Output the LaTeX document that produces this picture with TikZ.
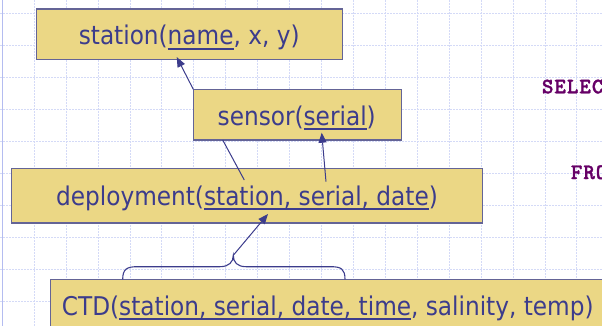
\documentclass[tikz,border=0pt]{standalone}
\usepackage{fontspec}
\newfontfamily\boxfont{DejaVu Sans Condensed}
\newfontfamily\codefont{lmmonolt10-bold.otf}[FakeBold=1.6,LetterSpace=4.3]
\usetikzlibrary{arrows.meta}

\definecolor{boxfill}{RGB}{235,215,133}
\definecolor{boxedge}{RGB}{100,100,150}
\definecolor{ink}{RGB}{60,60,140}
\definecolor{gridblue}{RGB}{212,218,247}
\definecolor{marginblue}{RGB}{180,188,240}
\definecolor{sqlpurple}{RGB}{102,0,102}

% key attributes: a rule set just under the baseline
\newsavebox\keybox
\newcommand\keyattr[1]{\sbox\keybox{#1}\rlap{\rule[-5pt]{\wd\keybox}{1.8pt}}\usebox\keybox}

\begin{document}
\begin{tikzpicture}[x=1pt,y=-1pt,
  relbox/.style={draw=boxedge, line width=1.2pt, fill=boxfill, inner sep=0pt, outer sep=0pt},
  reltext/.style={text=ink, font=\boxfont\fontsize{25.8}{30}\selectfont, inner sep=0pt, anchor=base},
  link/.style={draw=ink, line width=1pt},
  fk/.style={link, -{Triangle[length=10pt,width=8pt]}},
  gridline/.style={draw=gridblue, line width=1pt, dash pattern=on 2pt off 1pt},
  sql/.style={text=sqlpurple, font=\codefont\fontsize{22}{26}\selectfont, inner sep=0pt, anchor=base west}]

\useasboundingbox (0,0) rectangle (602,326);
\clip (0,0) rectangle (602,326);

% background grid
\foreach \i in {0,...,17} \draw[gridline] ({34.3+31.92*\i},0) -- ++(0,326);
\foreach \j in {0,...,9} \draw[gridline] (0,{13.3+31.98*\j}) -- ++(602,0);
\draw[marginblue, line width=1.2pt] (2.2,0) -- (2.2,326);

% SQL fragments on the right
\node[sql] (select) at (541.7,93.3) {SELECT};
\node[sql] (from) at (570.7,179) {FROM};

% relations
\node[relbox, minimum width=306, minimum height=50.3] (station) at (189.7,34.15) {};
\node[relbox, minimum width=208.4, minimum height=50.7] (sensor) at (297.5,114.65) {};
\node[relbox, minimum width=470.6, minimum height=54.7] (deployment) at (247,195.65) {};
\node[relbox, minimum width=580, minimum height=80] (ctd) at (340.7,319.5) {};

\node[reltext] (stationtxt) at (189.2,45) {station(\keyattr{name}, x, y)};
\node[reltext] (sensortxt) at (296.7,125.3) {sensor(\keyattr{serial})};
\node[reltext] (deploytxt) at (247,205) {deployment(\keyattr{station, serial, date})};
\node[reltext, anchor=base west] (ctdtxt) at (61.7,315) {CTD(\keyattr{station, serial, date, time}, salinity, temp)};

% attachment points of the references
\coordinate (stationkey) at (176.7,57);
\coordinate (sensorkey) at (321.7,132.7);
\coordinate (sensorfoot) at (222.7,140);
\coordinate (deploystation) at (244.3,180);
\coordinate (deployserial) at (326,181.7);
\coordinate (deploykey) at (268,214);
\coordinate (bracetip) at (233.3,255.3);

% brace over the key of CTD
\draw[ink, line width=1.1pt]
  (122.7,279.3) .. controls (122.7,269) and (127,266.7) .. (137,266.7)
  -- (220,266.7) .. controls (229,266.7) and (233.3,262) .. (bracetip)
  .. controls (233.3,262) and (237,266.7) .. (246,266.7)
  -- (331,266.7) .. controls (341,266.7) and (345,269) .. (345,279.3);

% references
\draw[fk] (sensor.north west) -- (stationkey);
\draw[link] (deploystation) -- (sensorfoot);
\draw[fk] (deployserial) -- (sensorkey);
\draw[fk] (bracetip) -- (deploykey);
\end{tikzpicture}
\end{document}
